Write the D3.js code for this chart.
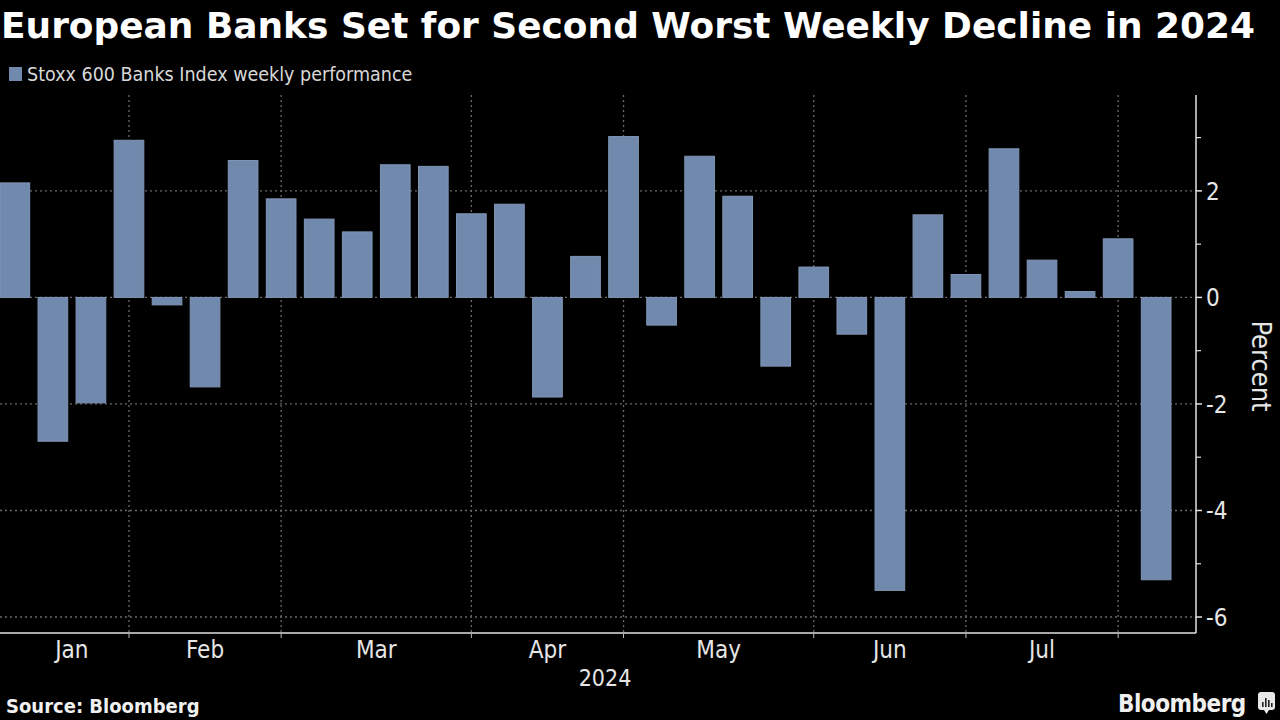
<!DOCTYPE html>
<html><head><meta charset="utf-8">
<script src="https://cdn.jsdelivr.net/npm/d3@7"></script>
<style>
html,body{margin:0;padding:0;background:#000;}
svg{display:block;}
text{font-family:"DejaVu Sans Condensed","DejaVu Sans",sans-serif;font-stretch:condensed;}
</style></head>
<body>
<svg id="c" width="1280" height="720"></svg>
<script>
// ---- data ----
// weekly bars; month gridlines fall on the first bar of each new month
const weekLabels = ["2024-01-05","2024-01-12","2024-01-19","2024-02-02","2024-02-09","2024-02-16","2024-02-23",
"2024-03-01","2024-03-08","2024-03-15","2024-03-22","2024-03-29","2024-04-05","2024-04-12","2024-04-19","2024-04-26",
"2024-05-03","2024-05-10","2024-05-17","2024-05-24","2024-05-31","2024-06-07","2024-06-14","2024-06-21","2024-06-28",
"2024-07-05","2024-07-12","2024-07-19","2024-07-26","2024-08-02","2024-08-09"];
const values = [2.15,-2.70,-1.98,2.95,-0.14,-1.68,2.57,1.85,1.47,1.23,2.49,2.46,1.57,1.75,-1.87,0.77,3.02,-0.52,2.65,1.90,-1.29,0.57,-0.69,-5.50,1.55,0.43,2.79,0.70,0.11,1.10,-5.30];
const monthLabels = ["Jan","Feb","Mar","Apr","May","Jun","Jul"];
const yTicks = [-6,-4,-2,0,2];
const yMinor = [-5,-3,-1,1,3];
const title = "European Banks Set for Second Worst Weekly Decline in 2024";
const legendLabel = "Stoxx 600 Banks Index weekly performance";
const yearLabel = "2024";
const axisTitle = "Percent";
const source = "Source: Bloomberg";

// ---- layout ----
const svg = d3.select("#c");
const plotL = 0, plotR = 1196, plotT = 95, plotB = 633;
const barColor = "#7189ac";

const x = d3.scaleBand().domain(weekLabels).range([0, 1171]).paddingInner(0.22).paddingOuter(0);
const y = d3.scaleLinear().domain([-6.3, 3.8]).range([plotB, plotT]);
const cx = d => x(d) + x.bandwidth()/2;

const boundaries = [];
weekLabels.forEach((d,i)=>{ if(i>0 && d.slice(5,7)!==weekLabels[i-1].slice(5,7)) boundaries.push(d); });

// title
svg.append("text").attr("x",1).attr("y",38).attr("fill","#fff")
  .attr("font-size",35).attr("font-weight","bold").attr("textLength",1254).attr("lengthAdjust","spacingAndGlyphs")
  .text(title);

// legend
svg.append("rect").attr("x",9).attr("y",67).attr("width",13).attr("height",14).attr("fill",barColor);
svg.append("text").attr("x",27).attr("y",81).attr("fill","#d8d8d8").attr("font-size",19.5).text(legendLabel);

// grid
const g = svg.append("g");
g.selectAll("line.hg").data(yTicks).join("line")
  .attr("x1",plotL).attr("x2",plotR).attr("y1",d=>y(d)).attr("y2",d=>y(d))
  .attr("stroke","#6a6a6a").attr("stroke-width",1.3).attr("stroke-dasharray","2,3");
g.selectAll("line.vg").data(boundaries).join("line")
  .attr("x1",cx).attr("x2",cx).attr("y1",plotT).attr("y2",plotB)
  .attr("stroke","#6a6a6a").attr("stroke-width",1.3).attr("stroke-dasharray","2,3");

// bars
svg.append("g").selectAll("rect").data(values).join("rect")
  .attr("x",(d,i)=>x(weekLabels[i]))
  .attr("width",x.bandwidth())
  .attr("y",d=>y(Math.max(0,d)))
  .attr("height",d=>Math.abs(y(d)-y(0)))
  .attr("fill",barColor).attr("stroke","#8096b6").attr("stroke-width",1);

// axes lines
svg.append("line").attr("x1",0).attr("x2",plotR).attr("y1",plotB).attr("y2",plotB).attr("stroke","#e0e0e0").attr("stroke-width",1.5);
svg.append("line").attr("x1",plotR).attr("x2",plotR).attr("y1",plotT).attr("y2",plotB).attr("stroke","#e0e0e0").attr("stroke-width",1.5);

// x ticks
svg.append("g").selectAll("line").data(boundaries).join("line")
  .attr("x1",cx).attr("x2",cx).attr("y1",plotB).attr("y2",plotB+5).attr("stroke","#bbb").attr("stroke-width",1);

// month labels centered between boundaries
const edges = [cx(weekLabels[0]), ...boundaries.map(cx)];
svg.append("g").selectAll("text").data(monthLabels).join("text")
  .attr("x",(d,i)=>(edges[i]+edges[i+1])/2).attr("y",658).attr("text-anchor","middle")
  .attr("fill","#e6e6e6").attr("font-size",24).text(d=>d);
svg.append("text").attr("x",605).attr("y",686).attr("text-anchor","middle").attr("fill","#e6e6e6").attr("font-size",23).text(yearLabel);

// y axis ticks
svg.append("g").selectAll("line").data(yTicks).join("line")
  .attr("x1",plotR).attr("x2",plotR+6).attr("y1",d=>y(d)).attr("y2",d=>y(d)).attr("stroke","#e0e0e0").attr("stroke-width",1.5);
svg.append("g").selectAll("line").data(yMinor).join("line")
  .attr("x1",plotR).attr("x2",plotR+5).attr("y1",d=>y(d)).attr("y2",d=>y(d)).attr("stroke","#e0e0e0").attr("stroke-width",1.2);
svg.append("g").selectAll("text").data(yTicks).join("text")
  .attr("x",plotR+10).attr("y",d=>y(d)+9).attr("fill","#e6e6e6").attr("font-size",24)
  .text(d=> d<0 ? "-"+Math.abs(d) : String(d));

svg.append("text").attr("transform","translate(1252,366) rotate(90)").attr("text-anchor","middle")
  .attr("fill","#e6e6e6").attr("font-size",27).text(axisTitle);

// footer
svg.append("text").attr("x",6).attr("y",713).attr("fill","#f0f0f0").attr("font-size",20).attr("font-weight","bold").text(source);
svg.append("text").attr("x",1118).attr("y",712).attr("fill","#f0f0f0").attr("font-size",24)
  .attr("font-family","'Open Sans',sans-serif").attr("font-weight",600).attr("letter-spacing",-0.5).text("Bloomberg");
const logo = svg.append("g").attr("transform","translate(1258,692)");
logo.append("rect").attr("width",17).attr("height",18).attr("rx",3).attr("fill","#e8e8e8");
logo.append("path").attr("d","M6,18 L8.5,22 L11,18 Z").attr("fill","#e8e8e8");
[[4,10,3],[7,6,7],[10,8,5],[13,11,2]].forEach(b=>logo.append("rect").attr("x",b[0]).attr("y",b[1]).attr("width",1.6).attr("height",b[2]+2).attr("fill","#222"));
</script>
</body></html>
